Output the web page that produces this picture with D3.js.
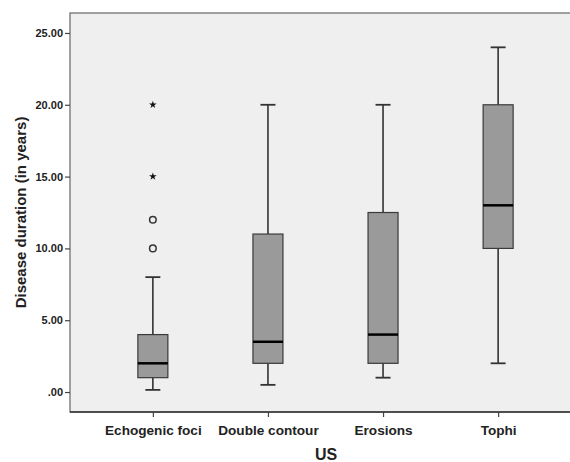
<!DOCTYPE html>
<html>
<head>
<meta charset="utf-8">
<script src="https://cdn.jsdelivr.net/npm/d3@7"></script>
<style>
  body { margin: 0; background: #fff; }
  text { font-family: "Liberation Sans", Arial, sans-serif; font-weight: bold; fill: #222; }
</style>
</head>
<body>
<svg id="chart" width="570" height="462"></svg>
<script>
// categories and box statistics (years)
const categories = ["Echogenic foci", "Double contour", "Erosions", "Tophi"];
const whiskerLow = [0.15, 0.5, 1, 2];
const q1 = [1, 2, 2, 10];
const median = [2, 3.5, 4, 13];
const q3 = [4, 11, 12.5, 20];
const whiskerHigh = [8, 20, 20, 24];
// outliers: circles are mild, stars are extreme
const outlierCircles = [{ cat: "Echogenic foci", v: 10 }, { cat: "Echogenic foci", v: 12 }];
const outlierStars = [{ cat: "Echogenic foci", v: 15 }, { cat: "Echogenic foci", v: 20 }];
const yTicks = [0, 5, 10, 15, 20, 25];

const svg = d3.select("#chart");
const plot = { left: 70, top: 13, right: 581, bottom: 412 };

const x = d3.scalePoint().domain(categories).range([plot.left, plot.right]).padding(0.72);
const y = d3.scaleLinear().domain([-1.39, 26.39]).range([plot.bottom, plot.top]);

// plot background (runs off the right edge, as in the source)
svg.append("rect")
  .attr("x", plot.left).attr("y", plot.top)
  .attr("width", plot.right - plot.left).attr("height", plot.bottom - plot.top)
  .attr("fill", "#efefef").attr("stroke", "#666").attr("stroke-width", 1.2);
svg.append("line")
  .attr("x1", plot.left).attr("x2", plot.right)
  .attr("y1", plot.bottom).attr("y2", plot.bottom)
  .attr("stroke", "#333").attr("stroke-width", 1.4);

// axes
const fmt = (d) => d === 0 ? ".00" : d.toFixed(2);
const yAxis = svg.append("g").attr("transform", `translate(${plot.left},0)`)
  .call(d3.axisLeft(y).tickValues(yTicks).tickFormat(fmt).tickSize(5).tickPadding(2));
yAxis.select(".domain").remove();
yAxis.selectAll("line").attr("stroke", "#444").attr("stroke-width", 1.2);
yAxis.selectAll("text").attr("font-size", 11).attr("fill", "#222")
  .style("font-family", "Liberation Sans, Arial, sans-serif").style("font-weight", "bold");

const xAxis = svg.append("g").attr("transform", `translate(0,${plot.bottom})`)
  .call(d3.axisBottom(x).tickSize(5).tickPadding(8));
xAxis.select(".domain").remove();
xAxis.selectAll("line").attr("stroke", "#444").attr("stroke-width", 1.2);
xAxis.selectAll("text").attr("font-size", 13.6).attr("fill", "#1a1a1a")
  .style("font-family", "Liberation Sans, Arial, sans-serif").style("font-weight", "bold");

// axis titles
svg.append("text")
  .attr("transform", `translate(26,${(plot.top + plot.bottom) / 2}) rotate(-90)`)
  .attr("text-anchor", "middle").attr("font-size", 15).attr("fill", "#1a1a1a")
  .text("Disease duration (in years)");
svg.append("text")
  .attr("x", 326).attr("y", 460).attr("text-anchor", "middle")
  .attr("font-size", 16).attr("fill", "#1a1a1a").text("US");

// boxes
const boxW = 30, capW = 15;
const boxes = svg.append("g").selectAll("g").data(categories).join("g");
boxes.each(function (c, i) {
  const g = d3.select(this);
  const cx = x(c);
  g.append("line").attr("x1", cx).attr("x2", cx)
    .attr("y1", y(whiskerLow[i])).attr("y2", y(whiskerHigh[i]))
    .attr("stroke", "#333").attr("stroke-width", 1.6);
  [whiskerLow[i], whiskerHigh[i]].forEach((v) => {
    g.append("line").attr("x1", cx - capW / 2).attr("x2", cx + capW / 2)
      .attr("y1", y(v)).attr("y2", y(v))
      .attr("stroke", "#333").attr("stroke-width", 1.8);
  });
  g.append("rect").attr("x", cx - boxW / 2).attr("width", boxW)
    .attr("y", y(q3[i])).attr("height", y(q1[i]) - y(q3[i]))
    .attr("fill", "#9a9a9a").attr("stroke", "#3a3a3a").attr("stroke-width", 1.2);
  g.append("line").attr("x1", cx - boxW / 2).attr("x2", cx + boxW / 2)
    .attr("y1", y(median[i])).attr("y2", y(median[i]))
    .attr("stroke", "#000").attr("stroke-width", 2.5);
});

// outliers
svg.append("g").selectAll("circle").data(outlierCircles).join("circle")
  .attr("cx", (d) => x(d.cat)).attr("cy", (d) => y(d.v)).attr("r", 3.3)
  .attr("fill", "none").attr("stroke", "#333").attr("stroke-width", 1.5);
svg.append("g").selectAll("path").data(outlierStars).join("path")
  .attr("transform", (d) => `translate(${x(d.cat)},${y(d.v)})`)
  .attr("d", d3.symbol(d3.symbolStar, 18))
  .attr("fill", "#111");
</script>
</body>
</html>
